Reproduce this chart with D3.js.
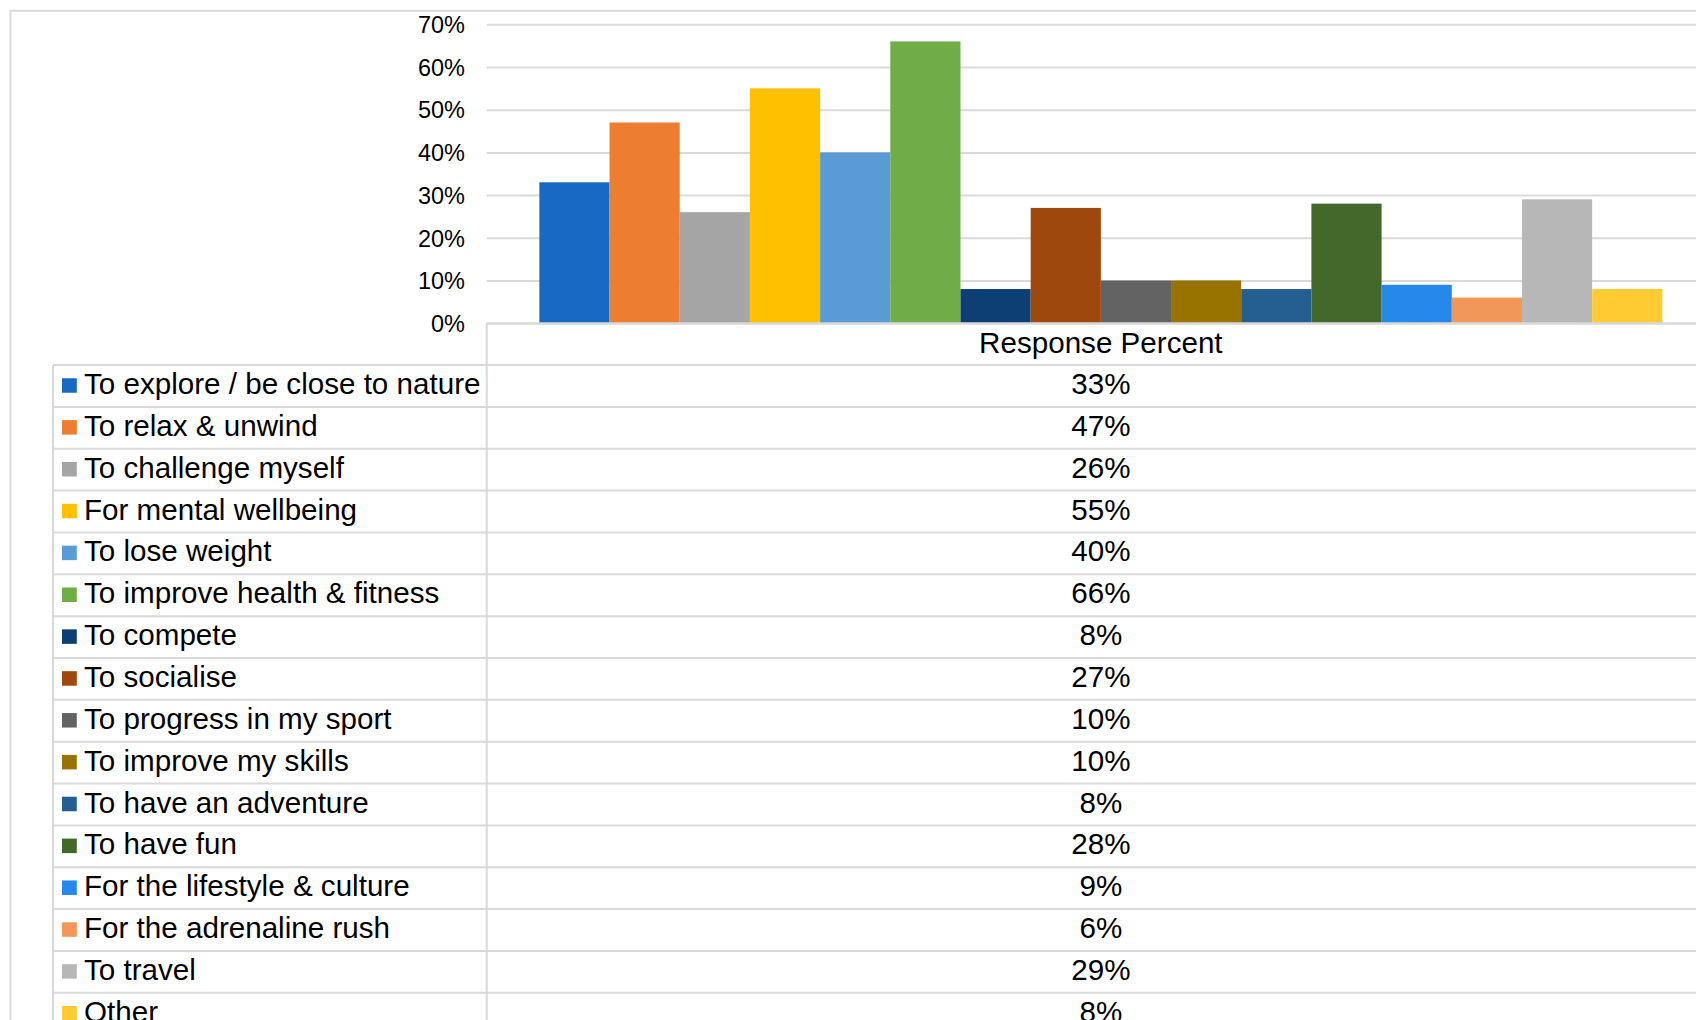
<!DOCTYPE html>
<html>
<head>
<meta charset="utf-8">
<script src="https://cdn.jsdelivr.net/npm/d3@7"></script>
<style>
  html, body { margin: 0; padding: 0; background: #ffffff; }
  svg { display: block; font-family: "Liberation Sans", Arial, sans-serif; }
</style>
</head>
<body>
<svg id="chart" width="1696" height="1020"></svg>
<script>
// Reasons for taking part — share of respondents per answer
const reasons = [
  "To explore / be close to nature",
  "To relax & unwind",
  "To challenge myself",
  "For mental wellbeing",
  "To lose weight",
  "To improve health & fitness",
  "To compete",
  "To socialise",
  "To progress in my sport",
  "To improve my skills",
  "To have an adventure",
  "To have fun",
  "For the lifestyle & culture",
  "For the adrenaline rush",
  "To travel",
  "Other"
];
const responsePercent = [0.33, 0.47, 0.26, 0.55, 0.40, 0.66, 0.08, 0.27, 0.10, 0.10, 0.08, 0.28, 0.09, 0.06, 0.29, 0.08];
const seriesColors = [
  "#1769C2", "#ED7D31", "#A5A5A5", "#FFC000", "#5B9BD5", "#70AD47",
  "#0E3F74", "#9E480E", "#636363", "#997300", "#255E91", "#43682B",
  "#2688EA", "#F1975A", "#B7B7B7", "#FFCB33"
];
const yTicks = [0, 0.1, 0.2, 0.3, 0.4, 0.5, 0.6, 0.7];
const columnTitle = "Response Percent";

const svg = d3.select("#chart");
const W = 1696, H = 1020;
const gridColor = "#d9d9d9";
const tableFont = 29.6;

// layout
const plotLeft = 486.7, plotRight = 1715;
const plotTop = 24.3, plotBottom = 323.2;
const tableLeft = 53;
const rowH = 41.85;
const headerTop = plotBottom;

// scales
const x = d3.scaleBand().domain(reasons).range([plotLeft, plotRight]).paddingInner(0).paddingOuter(0.75);
const y = d3.scaleLinear().domain([0, 0.7]).range([plotBottom, plotTop]);
const pct = d3.format(".0%");

svg.append("rect").attr("width", W).attr("height", H).attr("fill", "#fff");

// outer chart frame
svg.append("path")
  .attr("d", `M10.5,${H} V10.7 H${W}`)
  .attr("fill", "none").attr("stroke", gridColor).attr("stroke-width", 2);

// horizontal gridlines
const grid = svg.append("g")
  .attr("transform", `translate(${plotLeft},0)`)
  .call(d3.axisLeft(y).tickValues(yTicks).tickSize(-(plotRight - plotLeft)).tickFormat(""));
grid.select(".domain").remove();
grid.selectAll(".tick line").attr("stroke", gridColor).attr("stroke-width", 2);

// y tick labels
const yAxis = svg.append("g")
  .attr("transform", `translate(465,0)`)
  .call(d3.axisLeft(y).tickValues(yTicks).tickSize(0).tickPadding(0).tickFormat(pct));
yAxis.select(".domain").remove();
yAxis.selectAll(".tick text")
  .attr("font-size", 23.5)
  .attr("font-family", "'Liberation Sans', Arial, sans-serif")
  .attr("fill", "#000")
  .attr("dy", "0.35em");

// bars
svg.append("g").selectAll("rect")
  .data(reasons)
  .join("rect")
  .attr("x", d => x(d))
  .attr("width", x.bandwidth())
  .attr("y", (d, i) => y(responsePercent[i]))
  .attr("height", (d, i) => y(0) - y(responsePercent[i]))
  .attr("fill", (d, i) => seriesColors[i]);

// data table
const table = svg.append("g");
const colMid = (plotLeft + plotRight) / 2;
const firstRowTop = headerTop + rowH;

// header row
table.append("line")
  .attr("x1", plotLeft).attr("x2", W + 20)
  .attr("y1", headerTop).attr("y2", headerTop)
  .attr("stroke", gridColor).attr("stroke-width", 2);
table.append("text")
  .attr("x", colMid).attr("y", headerTop + 30)
  .attr("text-anchor", "middle")
  .attr("font-size", tableFont).attr("fill", "#000")
  .text(columnTitle);

// row separators
const rowEdges = d3.range(reasons.length + 1).map(i => firstRowTop + i * rowH);
table.selectAll("line.row")
  .data(rowEdges)
  .join("line")
  .attr("class", "row")
  .attr("x1", tableLeft).attr("x2", W + 20)
  .attr("y1", d => d).attr("y2", d => d)
  .attr("stroke", gridColor).attr("stroke-width", 2);

// vertical separators
table.append("line")
  .attr("x1", tableLeft).attr("x2", tableLeft)
  .attr("y1", firstRowTop).attr("y2", H + 20)
  .attr("stroke", gridColor).attr("stroke-width", 2);
table.append("line")
  .attr("x1", plotLeft).attr("x2", plotLeft)
  .attr("y1", headerTop).attr("y2", H + 20)
  .attr("stroke", gridColor).attr("stroke-width", 2);

// rows: legend key, label, value
const rows = table.selectAll("g.datarow")
  .data(reasons)
  .join("g")
  .attr("class", "datarow")
  .attr("transform", (d, i) => `translate(0,${firstRowTop + i * rowH})`);

rows.append("rect")
  .attr("x", 62).attr("y", 13.2)
  .attr("width", 14.8).attr("height", 14.5)
  .attr("fill", (d, i) => seriesColors[i]);

rows.append("text")
  .attr("x", 84).attr("y", 29)
  .attr("font-size", tableFont).attr("fill", "#000")
  .text(d => d);

rows.append("text")
  .attr("x", colMid).attr("y", 29)
  .attr("text-anchor", "middle")
  .attr("font-size", tableFont).attr("fill", "#000")
  .text((d, i) => pct(responsePercent[i]));
</script>
</body>
</html>
